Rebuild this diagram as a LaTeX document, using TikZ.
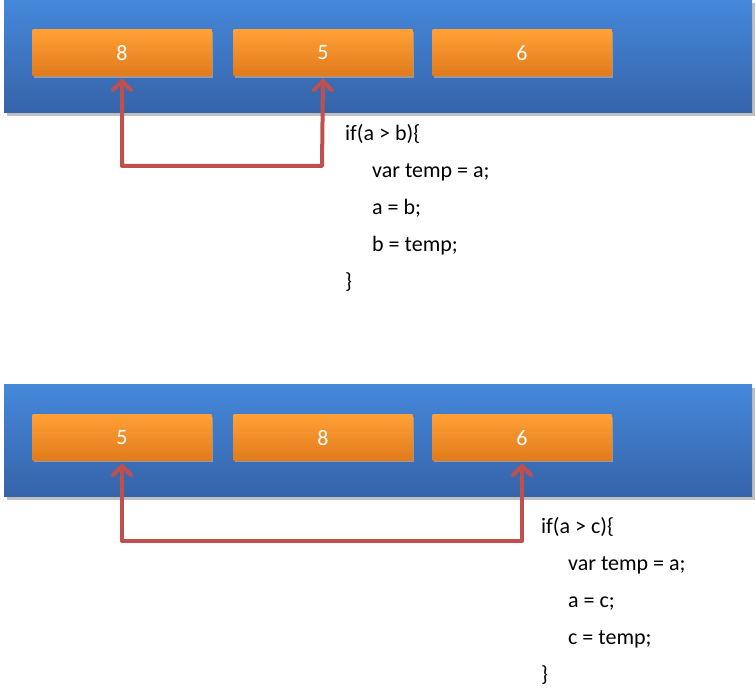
\documentclass[tikz,border=0pt]{standalone}
\usepackage{fontspec}
\setmainfont{Carlito}
\usetikzlibrary{arrows.meta}
\definecolor{barT}{HTML}{4588DA}
\definecolor{barB}{HTML}{3663A8}
\definecolor{orT}{HTML}{FFA035}
\definecolor{orB}{HTML}{E07A1C}
\definecolor{arr}{HTML}{C0504D}
\tikzset{
  bar/.style={draw=none, top color=barT, bottom color=barB},
  cell/.style={draw=none, top color=orT, bottom color=orB, minimum width=179pt, minimum height=46pt, inner sep=0pt, text=white, font=\fontsize{22}{26}\selectfont},
  swap/.style={draw=arr, line width=4pt, line cap=round, line join=round, {Straight Barb[length=9pt,width=18pt,line cap=round]}-{Straight Barb[length=9pt,width=18pt,line cap=round]}},
  code/.style={anchor=north west, align=left, inner sep=0pt, font=\fontsize{22}{37}\selectfont}
}
\begin{document}
\begin{tikzpicture}[x=1pt,y=-1pt]
\useasboundingbox (0,0) rectangle (756,700);
% top
\fill[black!25] (7,3) rectangle (755,116);
\fill[bar] (4,0) rectangle (752,113);
\foreach \n/\x/\t in {a/122/8,b/323/5,c/522/6}{
  \fill[black!40] (\x-88,32) rectangle (\x+91,78);
  \node[cell] (t\n) at (\x,53) {\t};
}
\coordinate (tl) at (122,166);
\coordinate (tr) at (322,166);
\draw[swap] ([yshift=-2pt]ta.south) -- (tl) -- (tr) -- ([yshift=-2pt]tb.south);
\node[code] (tcode) at (345,124) {if(a > b)\{\\\hspace*{27pt}var temp = a;\\\hspace*{27pt}a = b;\\\hspace*{27pt}b = temp;\\\}};
% bottom
\fill[black!25] (7,388) rectangle (755,500);
\fill[bar] (4,385) rectangle (752,497);
\foreach \n/\x/\t in {a/122/5,b/323/8,c/522/6}{
  \fill[black!40] (\x-88,417) rectangle (\x+91,462);
  \node[cell] (b\n) at (\x,438) {\t};
}
\coordinate (bl) at (122,541);
\coordinate (br) at (522,541);
\draw[swap] ([yshift=-2pt]ba.south) -- (bl) -- (br) -- ([yshift=-2pt]bc.south);
\node[code] (bcode) at (541,517) {if(a > c)\{\\\hspace*{27pt}var temp = a;\\\hspace*{27pt}a = c;\\\hspace*{27pt}c = temp;\\\}};
\end{tikzpicture}
\end{document}
